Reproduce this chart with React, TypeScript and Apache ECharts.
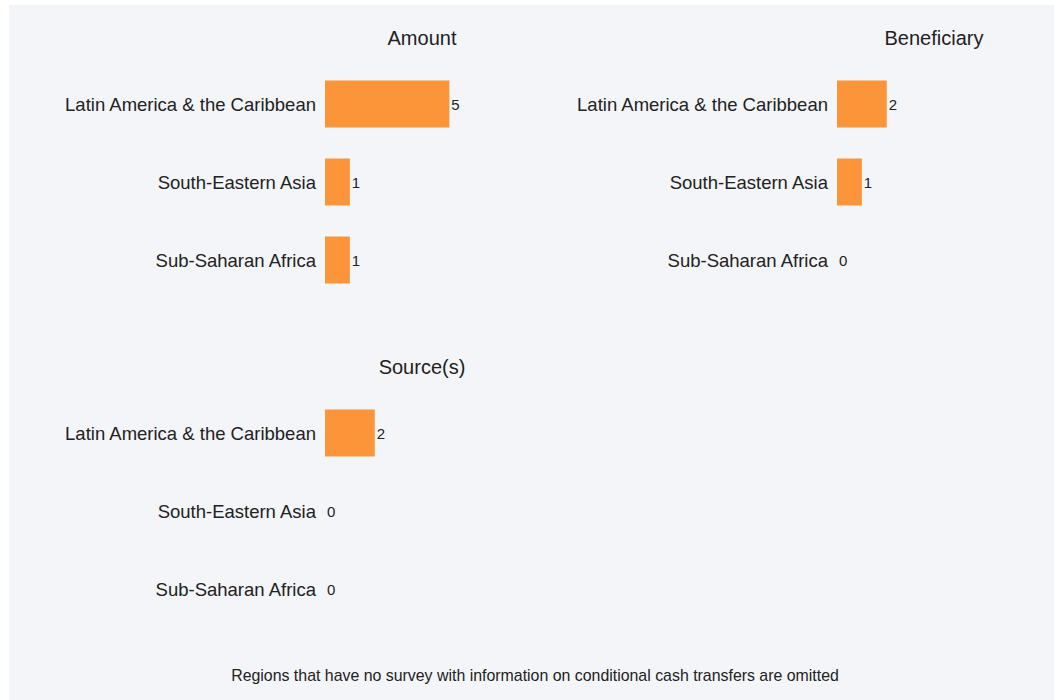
import React, { useEffect, useRef } from "react";
import * as echarts from "echarts";

const regions = ["Latin America & the Caribbean", "South-Eastern Asia", "Sub-Saharan Africa"];
const amountValues = [5, 1, 1];
const beneficiaryValues = [2, 1, 0];
const sourceValues = [2, 0, 0];
const panelTitles = ["Amount", "Beneficiary", "Source(s)"];
const footnote = "Regions that have no survey with information on conditional cash transfers are omitted";

const FONT = "'Liberation Sans', Arial, sans-serif";
const TEXT = "#222222";
const BAR = "#fc9539";

export default function App() {
  const ref = useRef<HTMLDivElement>(null);
  useEffect(() => {
    if (!ref.current) return;
    const chart = echarts.init(ref.current, undefined, { renderer: "svg" });
    const grids = [
      { left: 316, top: 60, width: 194, height: 234 },
      { left: 828, top: 60, width: 194, height: 234 },
      { left: 316, top: 389, width: 194, height: 234 },
    ];
    const data = [amountValues, beneficiaryValues, sourceValues];
    chart.setOption({
      animation: false,
      backgroundColor: "#f4f5f9",
      textStyle: { fontFamily: FONT },
      grid: grids.map((g) => ({ ...g, containLabel: false })),
      xAxis: grids.map((_, i) => ({
        type: "value",
        gridIndex: i,
        min: 0,
        max: 7.8,
        show: false,
        splitLine: { show: false },
      })),
      yAxis: grids.map((_, i) => ({
        type: "category",
        gridIndex: i,
        data: regions,
        inverse: true,
        axisLine: { show: false },
        axisTick: { show: false },
        splitLine: { show: false },
        axisLabel: {
          color: TEXT,
          fontSize: 18.5,
          margin: 9,
          fontFamily: FONT,
          padding: [2, 0, 0, 0],
        },
      })),
      series: data.map((vals, i) => ({
        type: "bar",
        xAxisIndex: i,
        yAxisIndex: i,
        data: vals,
        barWidth: "60%",
        itemStyle: { color: BAR },
        label: {
          show: true,
          position: "right",
          distance: 2,
          color: TEXT,
          fontSize: 15,
          fontFamily: FONT,
        },
      })),
      graphic: [
        ...panelTitles.map((t, i) => ({
          type: "text",
          x: grids[i].left + grids[i].width / 2,
          y: grids[i].top - 27,
          style: {
            text: t,
            fill: TEXT,
            font: `20px ${FONT}`,
            align: "center",
            verticalAlign: "middle",
          },
        })),
        {
          type: "text",
          x: 526,
          y: 670,
          style: {
            text: footnote,
            fill: TEXT,
            font: `15.9px ${FONT}`,
            align: "center",
            verticalAlign: "middle",
          },
        },
      ],
    });
    return () => chart.dispose();
  }, []);
  return (
    <div
      ref={ref}
      style={{ position: "absolute", left: 9, top: 5, width: 1045, height: 695 }}
    />
  );
}
